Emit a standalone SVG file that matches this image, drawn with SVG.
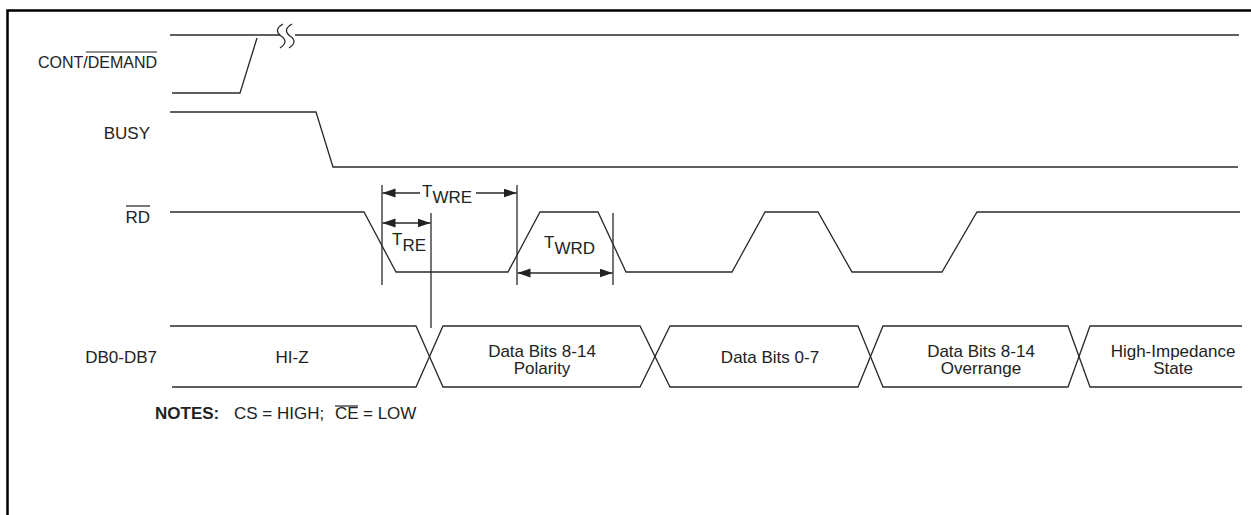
<svg xmlns="http://www.w3.org/2000/svg" width="1251" height="515" viewBox="0 0 1251 515">
<style>
.sig{fill:none;stroke:#2a2a2a;stroke-width:1.3;stroke-linejoin:miter}
.bd{fill:none;stroke:#000;stroke-width:2.5}
.t{font-family:"Liberation Sans",Arial,sans-serif;font-size:17px;fill:#222}
.c{text-anchor:middle}
.e{text-anchor:end}
.b{font-weight:bold}
.ov{stroke:#222;stroke-width:1.2}
</style>
<defs>
<marker id="ah" markerUnits="userSpaceOnUse" markerWidth="14" markerHeight="10" refX="13" refY="4.5" orient="auto-start-reverse">
<path d="M0,0 L13,4.5 L0,9 z" fill="#222"/>
</marker>
</defs>
<rect width="1251" height="515" fill="#fff"/>
<g id="frame">
<path class="bd" d="M7.5,515 V10.5 H1251"/>
</g>
<g id="cont-demand">
<text class="t e" x="157" y="68" style="font-size:16px">CONT/DEMAND</text>
<line class="ov" x1="86" y1="52" x2="157" y2="52"/>
<path class="sig" d="M170,35 H280"/>
<path class="sig" d="M295,35 H1239"/>
<path class="sig" d="M172,93 H240 L257,38"/>
<path class="sig" d="M283,24 C276,28 276,32 281,36 C287,40 286,44 280,48"/>
<path class="sig" d="M292,24 C285,28 285,32 290,36 C296,40 295,44 289,48"/>
</g>
<g id="busy">
<text class="t e" x="150" y="139">BUSY</text>
<path class="sig" d="M170,112 H316 L333,167 H1238"/>
</g>
<g id="rd">
<text class="t e" x="150" y="223">RD</text>
<line class="ov" x1="126" y1="206" x2="150" y2="206"/>
<path class="sig" d="M170,212 H364 L396,272 H508 L540,212 H598 L626,272 H732 L765,212 H818 L852,272 H942 L977,212 H1240"/>
</g>
<g id="db0-db7">
<text class="t e" x="157" y="363">DB0-DB7</text>
<path class="sig" d="M170,326 H416 L443,387 H640 L670,326 H858 L883,387 H1068 L1090,326 H1242"/>
<path class="sig" d="M172,387 H416 L443,326 H640 L670,387 H858 L883,326 H1068 L1090,387 H1242"/>
<text class="t c" x="292" y="363">HI-Z</text>
<text class="t c" x="542" y="357">Data Bits 8-14</text>
<text class="t c" x="542" y="374">Polarity</text>
<text class="t c" x="770" y="363">Data Bits 0-7</text>
<text class="t c" x="981" y="357">Data Bits 8-14</text>
<text class="t c" x="981" y="374">Overrange</text>
<text class="t c" x="1173" y="357">High-Impedance</text>
<text class="t c" x="1173" y="374">State</text>
</g>
<g id="timing-labels">
<text class="t" x="422" y="197">T<tspan dy="6">WRE</tspan></text>
<text class="t" x="392" y="245">T<tspan dy="6">RE</tspan></text>
<text class="t" x="544" y="248">T<tspan dy="6">WRD</tspan></text>
</g>
<g id="notes">
<text class="t b" x="155" y="419">NOTES:</text>
<text class="t" x="234" y="419">CS = HIGH;</text>
<text class="t" x="335" y="419">CE</text>
<line class="ov" x1="335" y1="406" x2="358" y2="406"/>
<text class="t" x="363" y="419">= LOW</text>
</g>
<g id="connectors">
<line class="sig" x1="382" y1="185" x2="382" y2="285"/>
<line class="sig" x1="431" y1="213" x2="431" y2="328"/>
<line class="sig" x1="517" y1="185" x2="517" y2="285"/>
<line class="sig" x1="613" y1="213" x2="613" y2="285"/>
<line class="sig" x1="420" y1="193" x2="382.5" y2="193" marker-end="url(#ah)"/>
<line class="sig" x1="476" y1="193" x2="516.5" y2="193" marker-end="url(#ah)"/>
<line class="sig" x1="382.5" y1="223" x2="430.5" y2="223" marker-start="url(#ah)" marker-end="url(#ah)"/>
<line class="sig" x1="517.5" y1="273" x2="612.5" y2="273" marker-start="url(#ah)" marker-end="url(#ah)"/>
</g>
</svg>
